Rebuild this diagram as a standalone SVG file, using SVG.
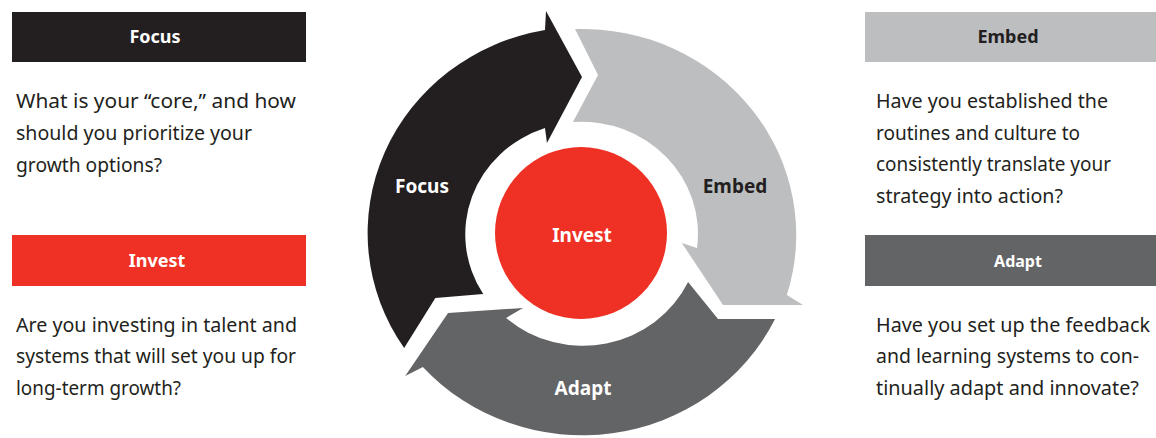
<svg xmlns="http://www.w3.org/2000/svg" width="1156" height="438" viewBox="0 0 1156 438">
<style>
.body{font-family:"Noto Sans","Liberation Sans",sans-serif;font-size:20px;fill:#231f20}
.hd{font-family:"Noto Sans","Liberation Sans",sans-serif;font-weight:bold;font-size:18px;text-anchor:middle}
.lbl{font-family:"Noto Sans","Liberation Sans",sans-serif;font-weight:bold;font-size:19px;text-anchor:middle}
.w{fill:#ffffff}
.k{fill:#231f20}
</style>
<rect width="1156" height="438" fill="#ffffff"/>
<g id="focus-card">
<rect x="12" y="12" width="294" height="50" fill="#231f20"/>
<text class="hd w" x="155" y="43">Focus</text>
<text class="body" x="16" y="108" textLength="280" lengthAdjust="spacingAndGlyphs">What is your “core,” and how</text>
<text class="body" x="16" y="140" textLength="236" lengthAdjust="spacingAndGlyphs">should you prioritize your</text>
<text class="body" x="16" y="172" textLength="146" lengthAdjust="spacingAndGlyphs">growth options?</text>
</g>
<g id="invest-card">
<rect x="12" y="235" width="294" height="51" fill="#ee3124"/>
<text class="hd w" x="157" y="267">Invest</text>
<text class="body" x="16" y="332" textLength="281" lengthAdjust="spacingAndGlyphs">Are you investing in talent and</text>
<text class="body" x="16" y="363" textLength="280" lengthAdjust="spacingAndGlyphs">systems that will set you up for</text>
<text class="body" x="16" y="395" textLength="165" lengthAdjust="spacingAndGlyphs">long-term growth?</text>
</g>
<g id="embed-card">
<rect x="865" y="12" width="291" height="50" fill="#bcbec0"/>
<text class="hd k" x="1008" y="43">Embed</text>
<text class="body" x="876" y="108" textLength="232" lengthAdjust="spacingAndGlyphs">Have you established the</text>
<text class="body" x="876" y="140" textLength="204" lengthAdjust="spacingAndGlyphs">routines and culture to</text>
<text class="body" x="876" y="171" textLength="235" lengthAdjust="spacingAndGlyphs">consistently translate your</text>
<text class="body" x="876" y="203" textLength="187" lengthAdjust="spacingAndGlyphs">strategy into action?</text>
</g>
<g id="adapt-card">
<rect x="865" y="235" width="291" height="51" fill="#636466"/>
<text class="hd w" x="1018" y="267" style="font-size:16px">Adapt</text>
<text class="body" x="876" y="332" textLength="274" lengthAdjust="spacingAndGlyphs">Have you set up the feedback</text>
<text class="body" x="876" y="363" textLength="263" lengthAdjust="spacingAndGlyphs">and learning systems to con-</text>
<text class="body" x="876" y="395" textLength="263" lengthAdjust="spacingAndGlyphs">tinually adapt and innovate?</text>
</g>
<g id="connectors" transform="translate(582,233) scale(1.04,1)">
<path id="arrow-focus" fill="#231f20" d="M -171,115 A 206 206 0 0 1 -35.6,-203 L -34.6,-222 L 0,-156 L -33.7,-90 L -35.6,-105 A 112 112 0 0 0 -95,61 L -141,65 Z"/>
<path id="arrow-embed" fill="#bcbec0" d="M -6.7,-204 A 206 206 0 0 1 197,62 L 212.5,72 L 135.6,72 L 96,10 L 110.6,15 A 112 112 0 0 0 -8.7,-111 L 15.4,-158 Z"/>
<path id="arrow-adapt" fill="#636466" d="M 185.6,86 A 206 206 0 0 1 -153,134 L -170,143 L -128.8,80 L -56.7,75 L -73,85 A 112 112 0 0 0 102,49 L 130.8,86 Z"/>
</g>
<g id="cycle-labels">
<text class="lbl w" x="422" y="193">Focus</text>
<text class="lbl k" x="735" y="193">Embed</text>
<text class="lbl w" x="583" y="395">Adapt</text>
</g>
<g id="invest-hub">
<circle cx="581" cy="233" r="86" fill="#ee3124"/>
<text class="lbl w" x="582" y="242">Invest</text>
</g>
</svg>
